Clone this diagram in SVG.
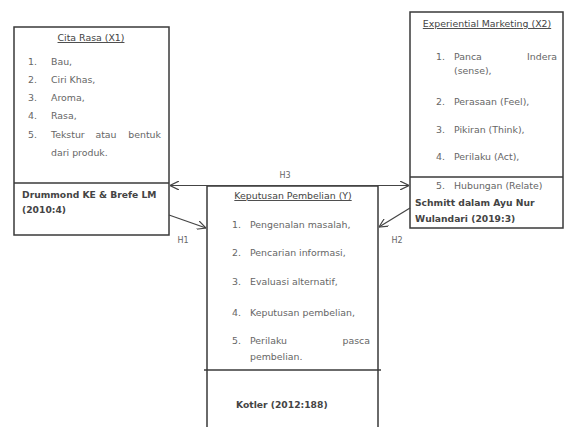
<svg xmlns="http://www.w3.org/2000/svg" width="564" height="427" viewBox="0 0 564 427">
<defs>
<style>
.box{fill:#fff;stroke:#3a3a3a;stroke-width:1.5}
.div{stroke:#3a3a3a;stroke-width:1.3}
.t{font-family:"DejaVu Sans",Verdana,sans-serif;font-size:9.4px;fill:#666}
.ttl{font-family:"DejaVu Sans",Verdana,sans-serif;font-size:9.4px;fill:#444;text-decoration:underline}
.cit{font-family:"DejaVu Sans",Verdana,sans-serif;font-size:9.2px;fill:#444;font-weight:bold}
.lbl{font-family:"DejaVu Sans",Verdana,sans-serif;font-size:8px;fill:#666}
.con{stroke:#444;stroke-width:1.2;fill:none}
</style>
<marker id="ah" viewBox="0 0 10 10" refX="10" refY="5" markerWidth="9" markerHeight="9" orient="auto-start-reverse" markerUnits="userSpaceOnUse">
<path d="M0,0 L10,5 L0,10" fill="none" stroke="#444" stroke-width="1.3"/>
</marker>
</defs>
<rect width="564" height="427" fill="#fff"/>
<g id="node-x1">
<rect class="box" x="14" y="27" width="155" height="208"/>
<line class="div" x1="14" y1="183" x2="169" y2="183"/>
<text class="ttl" x="91" y="41" text-anchor="middle">Cita Rasa (X1)</text>
<text class="t" x="28" y="65">1.</text><text class="t" x="51" y="65">Bau,</text>
<text class="t" x="28" y="83">2.</text><text class="t" x="51" y="83">Ciri Khas,</text>
<text class="t" x="28" y="101">3.</text><text class="t" x="51" y="101">Aroma,</text>
<text class="t" x="28" y="119">4.</text><text class="t" x="51" y="119">Rasa,</text>
<text class="t" x="28" y="138">5.</text><text class="t" x="51" y="138">Tekstur</text><text class="t" x="106" y="138" text-anchor="middle">atau</text><text class="t" x="161" y="138" text-anchor="end">bentuk</text>
<text class="t" x="51" y="156">dari produk.</text>
<text class="cit" x="22" y="198">Drummond KE &amp; Brefe LM</text>
<text class="cit" x="22" y="213">(2010:4)</text>
</g>
<g id="node-x2">
<rect class="box" x="410" y="12" width="153" height="216"/>
<line class="div" x1="410" y1="177" x2="563" y2="177"/>
<text class="ttl" x="487" y="27" text-anchor="middle">Experiential Marketing (X2)</text>
<text class="t" x="436" y="60">1.</text><text class="t" x="454" y="60">Panca</text><text class="t" x="557" y="60" text-anchor="end">Indera</text>
<text class="t" x="454" y="74">(sense),</text>
<text class="t" x="436" y="105">2.</text><text class="t" x="454" y="105">Perasaan (Feel),</text>
<text class="t" x="436" y="133">3.</text><text class="t" x="454" y="133">Pikiran (Think),</text>
<text class="t" x="436" y="160">4.</text><text class="t" x="454" y="160">Perilaku (Act),</text>
<text class="t" x="436" y="189">5.</text><text class="t" x="454" y="189">Hubungan (Relate)</text>
<text class="cit" x="415" y="206">Schmitt dalam Ayu Nur</text>
<text class="cit" x="415" y="222">Wulandari (2019:3)</text>
</g>
<g id="node-y">
<path class="box" d="M207,430 L207,186 L378,186 L378,430"/>
<line class="div" x1="204" y1="370" x2="381" y2="370"/>
<text class="ttl" x="293" y="199" text-anchor="middle">Keputusan Pembelian (Y)</text>
<text class="t" x="232" y="228">1.</text><text class="t" x="250" y="228">Pengenalan masalah,</text>
<text class="t" x="232" y="256">2.</text><text class="t" x="250" y="256">Pencarian informasi,</text>
<text class="t" x="232" y="285">3.</text><text class="t" x="250" y="285">Evaluasi alternatif,</text>
<text class="t" x="232" y="316">4.</text><text class="t" x="250" y="316">Keputusan pembelian,</text>
<text class="t" x="232" y="344">5.</text><text class="t" x="250" y="344">Perilaku</text><text class="t" x="370" y="344" text-anchor="end">pasca</text>
<text class="t" x="250" y="360">pembelian.</text>
<text class="cit" x="236" y="408">Kotler (2012:188)</text>
</g>
<g id="connectors">
<line class="con" x1="170" y1="185.5" x2="409" y2="185.5" marker-start="url(#ah)" marker-end="url(#ah)"/>
<line class="con" x1="169" y1="215" x2="206" y2="228" marker-end="url(#ah)"/>
<line class="con" x1="410" y1="208" x2="379" y2="227" marker-end="url(#ah)"/>
<text class="lbl" x="285" y="178" text-anchor="middle">H3</text>
<text class="lbl" x="183" y="243" text-anchor="middle">H1</text>
<text class="lbl" x="397" y="243" text-anchor="middle">H2</text>
</g>
</svg>
